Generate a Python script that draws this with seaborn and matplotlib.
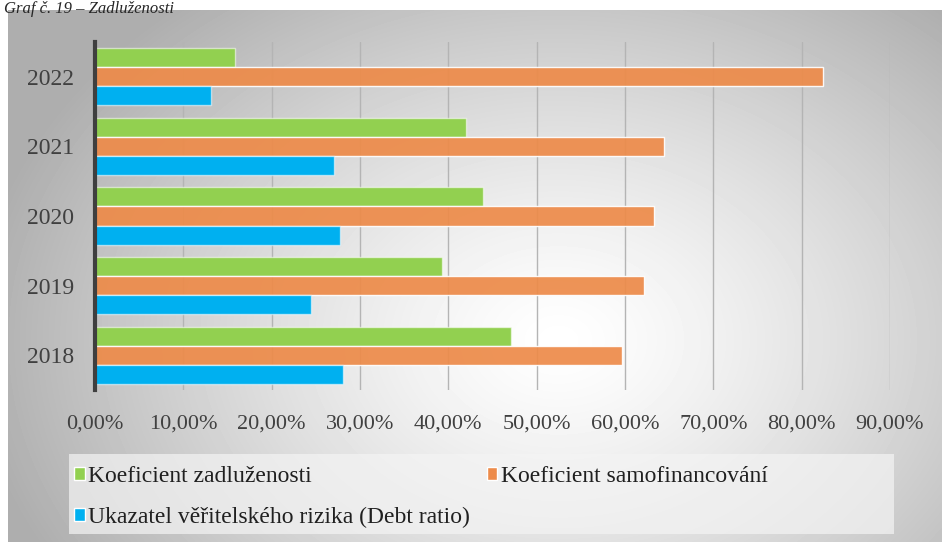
import numpy as np
import pandas as pd
import matplotlib
matplotlib.use("Agg")
import matplotlib.pyplot as plt
import seaborn as sns
from matplotlib.patches import Rectangle
from matplotlib.ticker import FuncFormatter, MultipleLocator

# data
years = ["2022", "2021", "2020", "2019", "2018"]
series = ["Koeficient zadluženosti", "Koeficient samofinancování",
          "Ukazatel věřitelského rizika (Debt ratio)"]
zadluzenost = [15.9, 42.0, 43.9, 39.3, 47.1]
samofinancovani = [82.4, 64.4, 63.3, 62.2, 59.7]
debt_ratio = [13.1, 27.0, 27.7, 24.5, 28.1]
colors = ["#92D050", "#ED8B4A", "#00B0F0"]

df = pd.DataFrame({
    "Rok": years * 3,
    "Ukazatel": [series[0]] * 5 + [series[1]] * 5 + [series[2]] * 5,
    "Hodnota": [v / 100 for v in zadluzenost + samofinancovani + debt_ratio],
})

sns.set_style("white")
plt.rcParams["font.family"] = ["Liberation Serif", "DejaVu Serif"]

W, H = 942, 542
fig = plt.figure(figsize=(W / 100, H / 100), dpi=100)

# radial grey background of the chart area
bg = fig.add_axes([8 / W, 0, 1 - 8 / W, 1 - 10 / H], zorder=0)
yy, xx = np.mgrid[0:532, 0:934]
cx, cy = 550, 330
r = np.sqrt(((xx - cx) / 560.0) ** 2 + ((yy - cy) / 420.0) ** 2)
shade = np.clip(1.0 - 0.30 * r ** 1.3, 0.68, 1.0)
bg.imshow(shade, cmap="gray", vmin=0, vmax=1, aspect="auto", interpolation="bilinear")
bg.set_axis_off()

fig.text(0.004, 1 - 1 / H, "Graf č. 19 – Zadluženosti", fontsize=12,
         style="italic", va="top", ha="left", zorder=5)

ax = fig.add_axes([95 / W, 1 - 390 / H, (890 - 95) / W, (390 - 42) / H], zorder=1)
ax.patch.set_alpha(0)

sns.barplot(data=df, x="Hodnota", y="Rok", hue="Ukazatel", order=years,
            hue_order=series, palette=colors, orient="h", width=0.82,
            saturation=1, ax=ax, legend=True)

for i, cont in enumerate(ax.containers):
    for bar in cont:
        bar.set_edgecolor((1, 1, 1, 0.55))
        bar.set_linewidth(1.0)
        if i == 1:
            bar.set_alpha(0.93)

ax.set_xlim(0, 0.9)
ax.xaxis.set_major_locator(MultipleLocator(0.1))
ax.xaxis.set_major_formatter(FuncFormatter(lambda v, p: f"{v * 100:.2f}%".replace(".", ",")))
ax.grid(axis="x", color="#b4b4b4", linewidth=1.0)
ax.set_axisbelow(True)
ax.set_xlabel("")
ax.set_ylabel("")
for s in ["top", "right", "bottom"]:
    ax.spines[s].set_visible(False)
ax.spines["left"].set_color("#3f3f3f")
ax.spines["left"].set_linewidth(3)
ax.tick_params(axis="x", length=5, color="#a0a0a0", labelsize=16, pad=13, labelcolor="#404040")
ax.tick_params(axis="y", length=0, labelsize=17, pad=15, labelcolor="#404040")

# legend box
fig.patches.append(Rectangle((69 / W, 8 / H), (894 - 69) / W, 80 / H,
                             transform=fig.transFigure, facecolor="#f4f4f4",
                             alpha=0.7, edgecolor="none", zorder=1))

handles, labels = ax.get_legend_handles_labels()
ax.get_legend().remove()
order = [0, 2, 1]  # fill rows: green, orange / blue
leg = fig.legend([handles[i] for i in order], [labels[i] for i in order],
                 loc="upper left", bbox_to_anchor=(74 / W, 1 - 466 / H),
                 ncol=2, frameon=False, fontsize=17, handlelength=0.45,
                 handleheight=0.45, handletextpad=0.15, borderaxespad=0, labelspacing=0.85,
                 borderpad=0.0, columnspacing=0.7)
for t in leg.get_texts():
    t.set_color("#202020")

fig.savefig("out.png", dpi=100)
